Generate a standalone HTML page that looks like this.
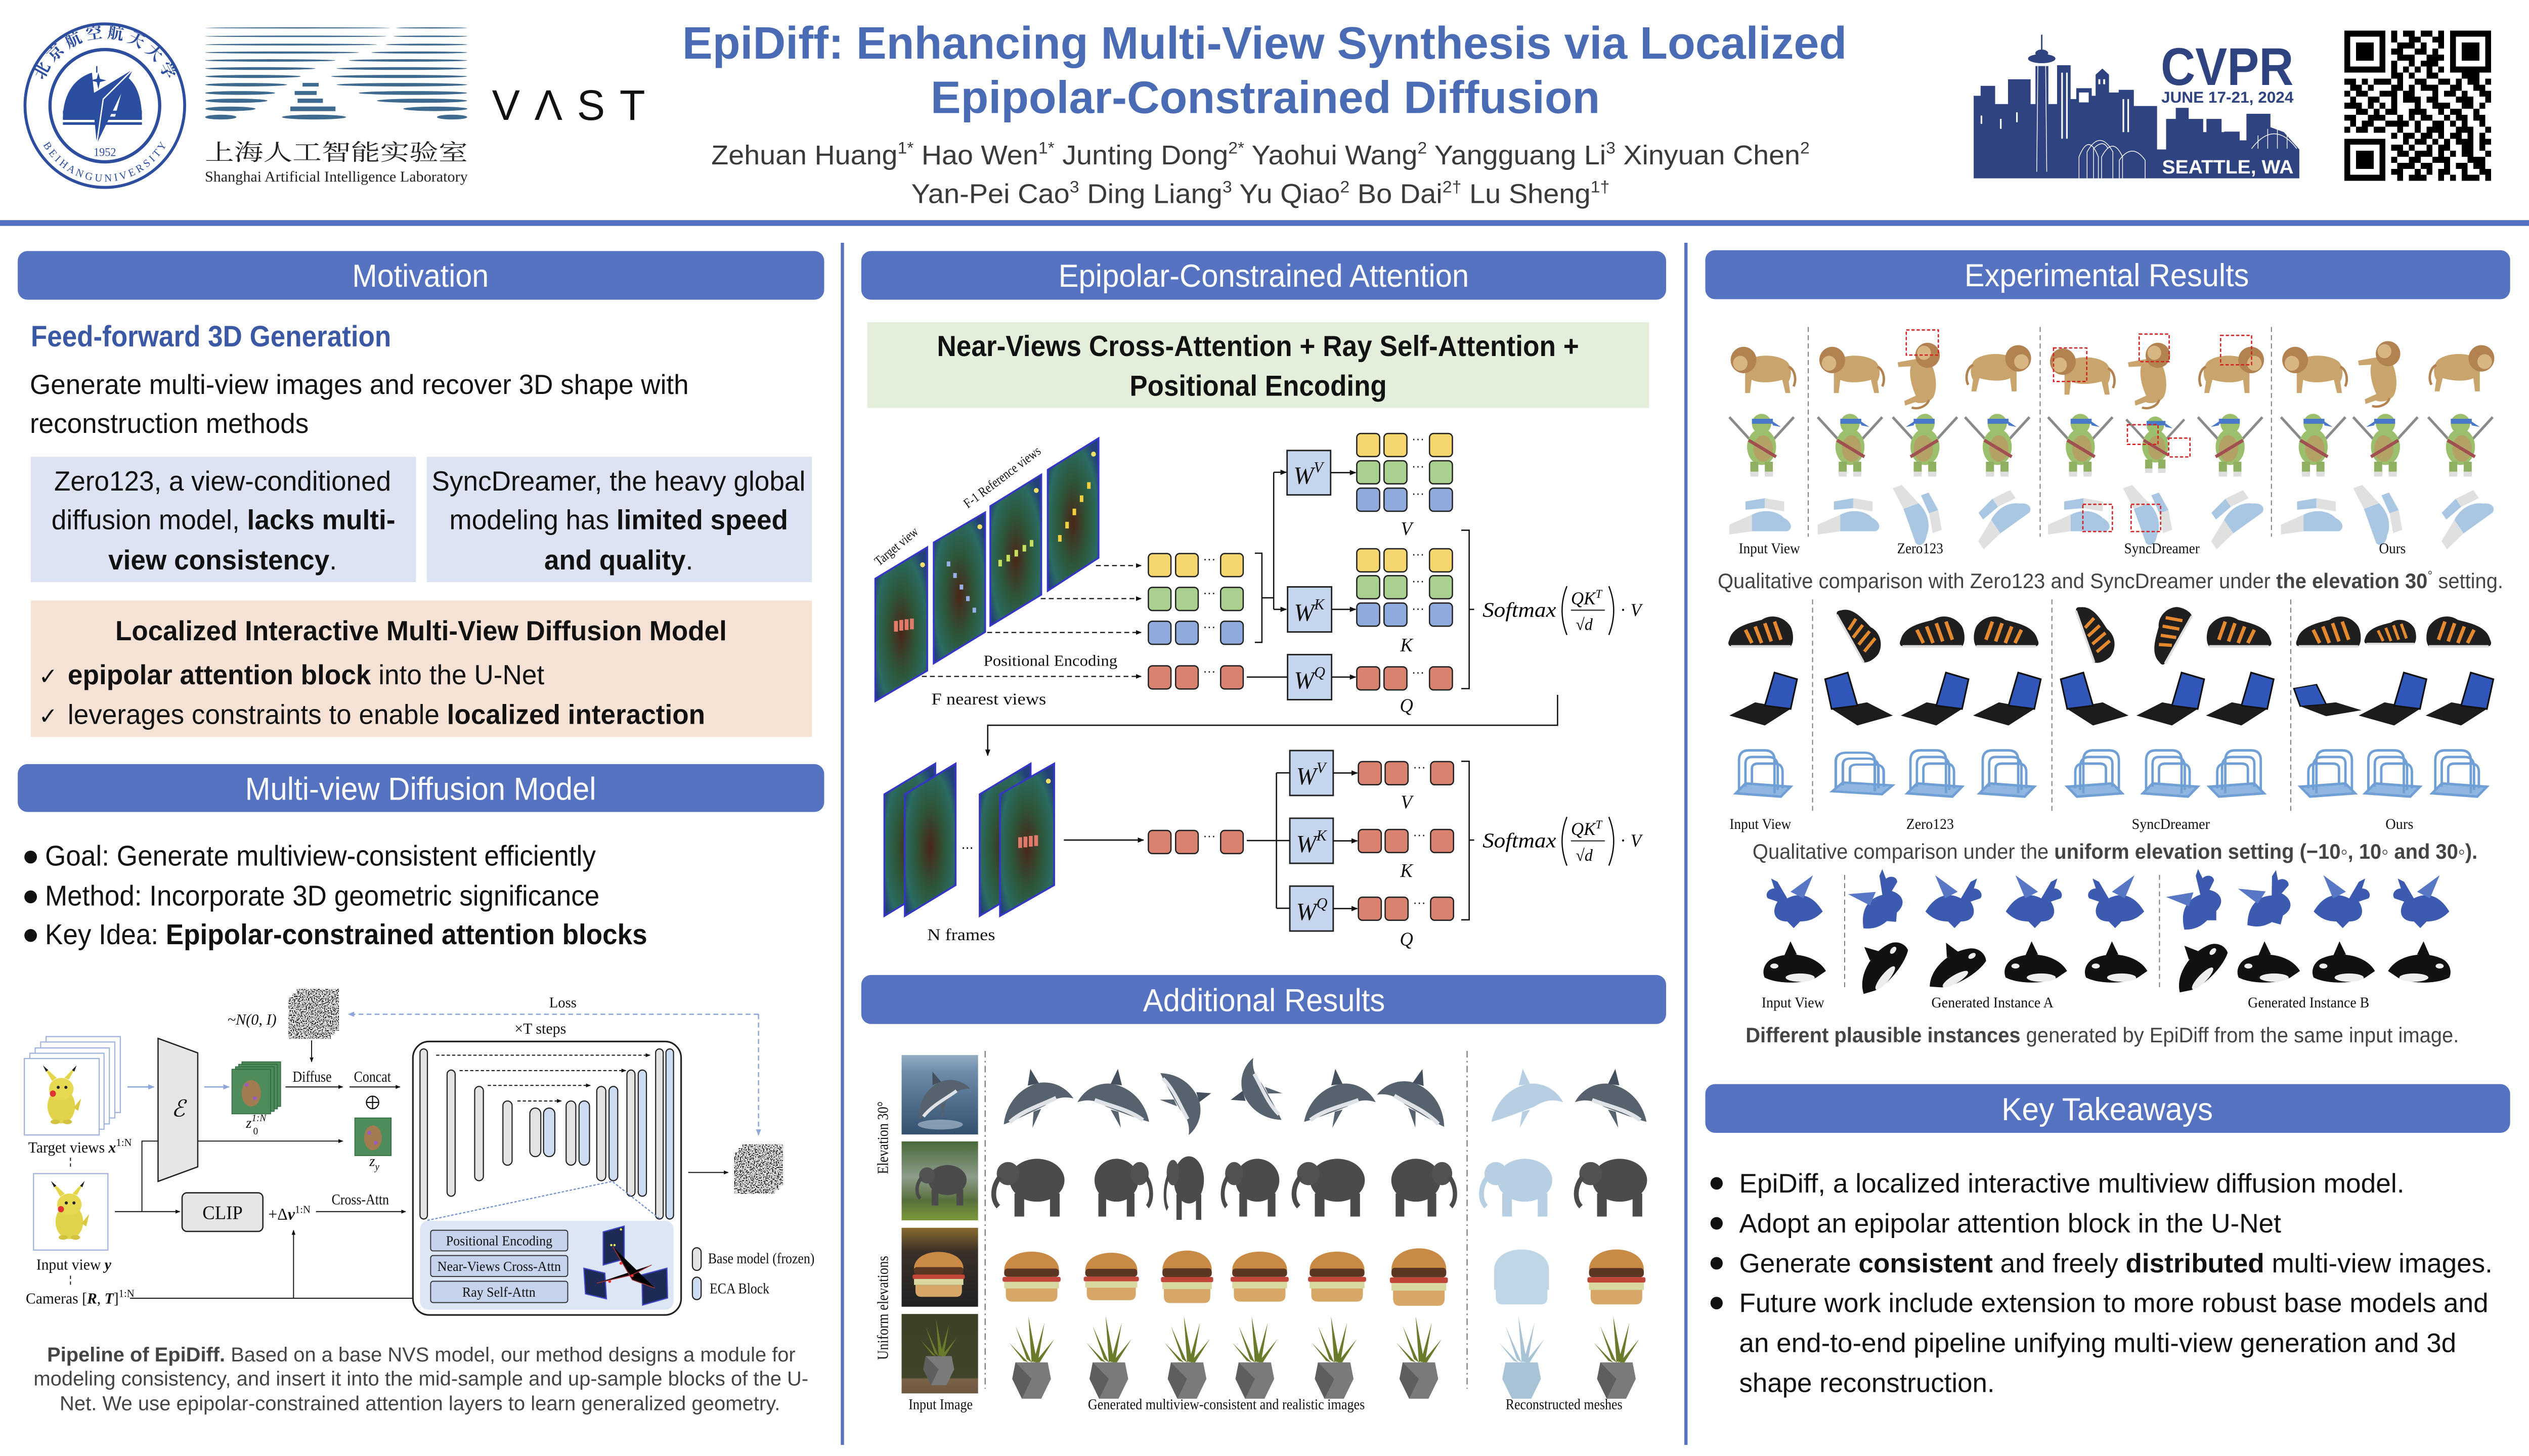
<!DOCTYPE html>
<html><head><meta charset="utf-8"><style>
html,body{margin:0;padding:0;background:#fff;overflow:hidden;width:100%;height:100%;}
svg{display:block;position:fixed;left:0;top:0;width:100vw;height:100vh}
.s{font-family:"Liberation Sans",Arial,"Noto Sans CJK SC",sans-serif}
.r{font-family:"Liberation Serif","Times New Roman",serif}
.cj{font-family:"Noto Serif CJK SC","Noto Sans CJK SC",serif}
.b{font-weight:bold}
.i{font-style:italic}
.ty{fill:#f6d66f}.tg{fill:#a9d08e}.tb{fill:#8faadc}.tr{fill:#d9826f}
.tk rect{stroke:#222;stroke-width:.8}
</style></head><body>
<svg width="5120" height="2879" viewBox="0 0 1568 881.7" preserveAspectRatio="none" xmlns="http://www.w3.org/2000/svg">
<defs>
<marker id="ah" viewBox="0 0 10 10" refX="9" refY="5" markerWidth="5" markerHeight="5" orient="auto"><path d="M0,1 L10,5 L0,9 z" fill="#111"/></marker>
<marker id="ahb" viewBox="0 0 10 10" refX="9" refY="5" markerWidth="5" markerHeight="5" orient="auto"><path d="M0,1 L10,5 L0,9 z" fill="#8fa8dc"/></marker>
<filter id="noise" x="0" y="0" width="1" height="1" filterUnits="objectBoundingBox">
<feTurbulence type="fractalNoise" baseFrequency="1.4" numOctaves="1" seed="4" result="t"/>
<feColorMatrix in="t" type="matrix" values="4 0 0 0 -1.5  4 0 0 0 -1.5  4 0 0 0 -1.5  0 0 0 0 1"/>
</filter>
<radialGradient id="fm" cx="0.5" cy="0.55" r="0.62"><stop offset="0" stop-color="#4a2618"/><stop offset="0.45" stop-color="#2d573a"/><stop offset="0.8" stop-color="#2b6b62"/><stop offset="1" stop-color="#23407a"/></radialGradient>
<linearGradient id="sea" x1="0" y1="0" x2="0" y2="1"><stop offset="0" stop-color="#93abc2"/><stop offset="0.2" stop-color="#6f8dab"/><stop offset="1" stop-color="#33506e"/></linearGradient>
<linearGradient id="forest" x1="0" y1="0" x2="0" y2="1"><stop offset="0" stop-color="#4a6a3a"/><stop offset="0.45" stop-color="#8c9c8a"/><stop offset="0.75" stop-color="#58703c"/><stop offset="1" stop-color="#7c9a3a"/></linearGradient>
<linearGradient id="bgb" x1="0" y1="0" x2="0" y2="1"><stop offset="0" stop-color="#8a6a30"/><stop offset="0.3" stop-color="#3a3028"/><stop offset="1" stop-color="#222"/></linearGradient>
<linearGradient id="bgp" x1="0" y1="0" x2="0" y2="1"><stop offset="0" stop-color="#3b4226"/><stop offset="0.8" stop-color="#40442a"/><stop offset="0.82" stop-color="#7a6248"/><stop offset="1" stop-color="#6e5840"/></linearGradient>

<g id="pika">
<path d="M-6,-13 L-12,-23 L-3,-15Z" fill="#e4d64a"/><path d="M-12,-23 L-10,-19 L-8.5,-20Z" fill="#222"/>
<path d="M5,-14 L10,-23 L2,-15Z" fill="#e4d64a"/><path d="M10,-23 L8.5,-19 L7,-20Z" fill="#222"/>
<ellipse cx="0" cy="3" rx="9" ry="11" fill="#e2d34c"/>
<ellipse cx="0" cy="-8" rx="8" ry="7" fill="#e6d850"/>
<circle cx="-5.5" cy="-5" r="2" fill="#d33"/>
<circle cx="-2" cy="-9" r="1" fill="#222"/><circle cx="3" cy="-9" r="1" fill="#222"/>
<path d="M8,4 L13,-2 L11,6Z" fill="#d8c840"/>
<ellipse cx="-4" cy="13" rx="3" ry="1.5" fill="#d2c240"/><ellipse cx="4" cy="13" rx="3" ry="1.5" fill="#d2c240"/>
</g>

<g id="lion">
<path d="M-12,-2 C-8,-8 8,-8 14,-3 C17,0 17,6 15,9 L16,16 L13,16 L11,8 C4,10 -4,10 -8,8 L-9,16 L-12,16 L-12,6 Z" fill="#c9a46c"/>
<circle cx="-13" cy="-4" r="8" fill="#b28350"/>
<circle cx="-15" cy="-2" r="4.5" fill="#d7b683"/>
<path d="M15,0 C19,2 20,8 18,12" stroke="#b28350" stroke-width="1.5" fill="none"/>
</g>
<g id="turtle">
<path d="M-20,-14 L-5,2" stroke="#8a8a8a" stroke-width="1.6"/>
<path d="M20,-14 L5,2" stroke="#8a8a8a" stroke-width="1.6"/>
<ellipse cx="0" cy="4" rx="9" ry="11" fill="#9cbf6e"/>
<ellipse cx="1" cy="5" rx="6" ry="8" fill="#b3a266"/>
<circle cx="0" cy="-10" r="6" fill="#9cbf6e"/>
<rect x="-6" y="-13" width="13" height="3" fill="#4a78c8"/>
<path d="M6,-12 L12,-8 L7,-9Z" fill="#4a78c8"/>
<rect x="-7" y="13" width="5" height="8" fill="#8fb060"/><rect x="2" y="13" width="5" height="8" fill="#8fb060"/>
<rect x="-7" y="19" width="5" height="3" fill="#ddd"/><rect x="2" y="19" width="5" height="3" fill="#ddd"/>
<path d="M-8,0 L9,10" stroke="#a05050" stroke-width="2"/>
</g>
<g id="gloves">
<path d="M-20,8 L-6,2 L-6,12 L-20,14Z" fill="#e0e0e0"/>
<path d="M-6,2 C2,-2 10,0 14,4 C18,6 20,10 16,12 L-6,12Z" fill="#a9c7e2"/>
<path d="M-10,-6 L2,-8 L2,-2 L-10,-1Z" fill="#a9c7e2"/>
<path d="M2,-8 L14,-6 L14,0 L2,-2Z" fill="#e0e0e0"/>
</g>
<g id="shoe">
<path d="M-20,4 C-18,-4 -8,-6 0,-8 C6,-12 14,-10 18,-4 C20,0 20,6 18,8 L-18,8 C-21,8 -21,6 -20,4Z" fill="#1f1f1f"/>
<path d="M-10,-2 L-6,6 M-4,-4 L0,6 M2,-6 L6,5 M8,-7 L12,4" stroke="#e5892f" stroke-width="2.2"/>
<path d="M-19,8 L18,8" stroke="#ddd" stroke-width="1.5"/>
</g>
<g id="laptop">
<path d="M-20,8 L2,14 L18,4 L-4,0Z" fill="#1c1c1c"/>
<path d="M2,2 L18,4 L22,-14 L8,-18Z" fill="#2f56b8" stroke="#111" stroke-width="1"/>
</g>
<g id="rack" fill="none" stroke="#6f9fd4" stroke-width="1.5">
<path d="M-16,12 L12,14 L18,8 L-10,6Z" fill="#8fb6e0"/>
<path d="M-14,10 V-8 Q-14,-14 -8,-14 H2 Q8,-14 8,-8 V12"/>
<path d="M-10,8 V-6 Q-10,-10 -6,-10 H4 Q10,-10 10,-4 V10"/>
<path d="M-6,7 V-3 Q-6,-6 -2,-6 H8 Q13,-6 13,-1 V9"/>
</g>
<g id="dragon">
<path d="M-18,6 C-12,-4 -4,-6 4,-2 L10,-12 L14,-14 L12,-8 C16,-8 18,-4 16,-2 L10,0 C14,6 12,12 4,12 L0,16 L-4,12 C-10,12 -14,10 -18,6Z" fill="#3c5bb0"/>
<path d="M-6,-2 L-12,-16 L2,-6Z" fill="#5877c4"/>
</g>
<g id="orca">
<path d="M-20,4 C-14,-6 2,-8 12,-4 C18,-2 20,4 18,8 C10,12 -6,12 -14,8 L-20,4Z" fill="#111"/>
<path d="M-2,-6 L2,-14 L6,-5Z" fill="#111"/>
<ellipse cx="-4" cy="8" rx="9" ry="2.5" fill="#eee"/>
<ellipse cx="12" cy="1" rx="2.5" ry="1.5" fill="#eee"/>
</g>
<g id="dolphin">
<path d="M-22,10 C-16,-2 -4,-8 8,-6 C16,-4 22,2 24,10 C18,6 12,6 6,8 C-4,9 -14,10 -22,10Z" fill="#56636f"/>
<path d="M-18,10 C-8,6 4,7 14,6" stroke="#dfe3e8" stroke-width="2.5" fill="none"/>
<path d="M0,-7 L5,-16 L7,-6Z" fill="#44505e"/>
<path d="M-2,9 L-6,18 L3,9Z" fill="#56636f"/>
</g>
<g id="dolphinM" fill="#b7cfe2">
<path d="M-22,10 C-16,-2 -4,-8 8,-6 C16,-4 22,2 24,10 C18,6 12,6 6,8 C-4,9 -14,10 -22,10Z"/>
<path d="M0,-7 L5,-16 L7,-6Z"/><path d="M-2,9 L-6,18 L3,9Z"/>
</g>
<g id="eleph">
<ellipse cx="2" cy="-2" rx="17" ry="13" fill="#4b4b4b"/>
<rect x="-12" y="6" width="6" height="14" fill="#4b4b4b"/>
<rect x="10" y="6" width="6" height="14" fill="#4b4b4b"/>
<circle cx="-16" cy="-6" r="7" fill="#525252"/>
<path d="M-21,-4 C-26,2 -26,10 -22,14" stroke="#4b4b4b" stroke-width="3" fill="none"/>
</g>
<g id="elephM" fill="#b7cfe2">
<ellipse cx="2" cy="-2" rx="17" ry="13"/>
<rect x="-12" y="6" width="6" height="14"/><rect x="10" y="6" width="6" height="14"/>
<circle cx="-16" cy="-6" r="7"/>
<path d="M-21,-4 C-26,2 -26,10 -22,14" stroke="#b7cfe2" stroke-width="3" fill="none"/>
</g>
<g id="burger">
<path d="M-17,-2 C-17,-17 17,-17 17,-2Z" fill="#c98a45"/>
<rect x="-17" y="-3" width="34" height="5" rx="2" fill="#5b3623"/>
<rect x="-18" y="2" width="36" height="3" rx="1" fill="#c0463a"/>
<rect x="-17" y="5" width="34" height="4" fill="#d8d8a0"/>
<path d="M-16,9 H16 V13 Q16,17 12,17 H-12 Q-16,17 -16,13Z" fill="#d6a767"/>
</g>
<g id="burgerM" fill="#bfd6e6">
<path d="M-17,-2 C-17,-17 17,-17 17,-2Z"/><rect x="-17" y="-3" width="34" height="12"/>
<path d="M-16,9 H16 V13 Q16,17 12,17 H-12 Q-16,17 -16,13Z"/>
</g>
<g id="plant">
<path d="M-10,4 L10,4 L12,14 L6,26 L-6,26 L-12,14Z" fill="#7a7a7a"/>
<path d="M-10,4 L-12,14 L-6,26 L0,14Z" fill="#5e5e5e"/>
<path d="M0,4 L-10,-18 L-3,2 Z M0,4 L-2,-24 L3,2Z M1,4 L8,-20 L4,3Z M-2,4 L-14,-8 L-5,3Z M2,4 L14,-10 L5,4Z" fill="#6a7b2c"/>
</g>
<g id="plantM" fill="#a9c3d6">
<path d="M-10,4 L10,4 L12,14 L6,26 L-6,26 L-12,14Z"/>
<path d="M0,4 L-10,-18 L-3,2 Z M0,4 L-2,-24 L3,2Z M1,4 L8,-20 L4,3Z M-2,4 L-14,-8 L-5,3Z M2,4 L14,-10 L5,4Z"/>
</g>
<g id="fml">
<text class="r i" x="919.2" y="373.5" font-size="12.5" textLength="45.6" lengthAdjust="spacingAndGlyphs">Softmax</text>
<path d="M971.5,355 Q965.5,369.5 971.5,384.5 M997.5,355 Q1003.5,369.5 997.5,384.5" stroke="#111" stroke-width=".8" fill="none"/>
<text class="r i" x="974" y="366" font-size="11">QK<tspan font-size="7" dy="-4">T</tspan></text>
<path d="M974,369.5 H995" stroke="#111" stroke-width=".6"/>
<text class="r" x="977" y="381.5" font-size="10">√<tspan class="i">d</tspan></text>
<text class="r" x="1004.5" y="373" font-size="11">· <tspan class="i">V</tspan></text>
</g>
</defs>

<rect x="0" y="0" width="1568" height="881.7" fill="#fff"/>

<!-- ========== HEADER ========== -->
<!-- Beihang logo -->
<g stroke="#2d4d9f" fill="none">
<circle cx="65" cy="64" r="49.5" stroke-width="1.8"/>
<circle cx="65" cy="64" r="34" stroke-width="2"/>
</g>
<path id="arcTop" d="M24,64 A41,41 0 0 1 106,64" fill="none"/>
<path id="arcBot" d="M21,66 A44,44 0 0 0 109,66" fill="none"/>
<text class="cj" font-size="10" fill="#2d4d9f" font-weight="bold"><textPath href="#arcTop" startOffset="50%" text-anchor="middle">北 京 航 空 航 天 大 学</textPath></text>
<text class="r" font-size="6.5" fill="#2d4d9f"><textPath href="#arcBot" startOffset="50%" text-anchor="middle">B E I H A N G   U N I V E R S I T Y</textPath></text>
<g fill="#2b4ea0">
<path d="M39,72 C39,56 47,47 57,44 L60,72 Z"/>
<path d="M88,72 C88,58 84,50 78,46 L71,72 Z"/>
<rect x="39" y="67" width="49" height="2"/><rect x="39" y="70.6" width="49" height="2"/><rect x="39" y="74" width="49" height="1.6"/>
<path d="M60,47.7 L61,44 L62,47.7 L66,48.7 L62,49.7 L61,54 L60,49.7 L56,48.7Z"/>
<path d="M82.5,42 L57,57 L60,87 Z"/>
</g>
<path d="M82.5,42 L64,60 L60,87" stroke="#fff" stroke-width=".8" fill="none"/>
<path d="M60,44 V40" stroke="#2b4ea0" stroke-width=".8"/>
<text class="r" x="65" y="94.5" font-size="7" fill="#2d4d9f" text-anchor="middle">1952</text>

<!-- Shanghai AI Lab logo -->
<g fill="#3d6a8e">
<ellipse cx="184.6" cy="16.9" rx="57.4" ry=".35"/><ellipse cx="267.6" cy="16.9" rx="22.1" ry=".35"/>
<ellipse cx="183.4" cy="22" rx="56.2" ry=".45"/><ellipse cx="266.9" cy="22" rx="22.9" ry=".45"/>
<ellipse cx="180.5" cy="27" rx="53.3" ry=".55"/><ellipse cx="264.4" cy="27" rx="25.4" ry=".55"/>
<ellipse cx="174.9" cy="31.8" rx="47.7" ry=".65"/><ellipse cx="260" cy="31.8" rx="29.7" ry=".65"/>
<ellipse cx="167.6" cy="36.6" rx="40.4" ry=".75"/><ellipse cx="253" cy="36.6" rx="36.7" ry=".75"/>
<ellipse cx="161.4" cy="41.5" rx="34.2" ry=".85"/><ellipse cx="249.2" cy="41.5" rx="40.5" ry=".85"/>
<ellipse cx="156.9" cy="46.3" rx="29.7" ry=".95"/><ellipse cx="247.5" cy="46.3" rx="42.2" ry=".95"/>
<ellipse cx="152.6" cy="51.3" rx="25.4" ry="1.05"/><rect x="187.6" y="50.2" width="10" height="2.2"/><ellipse cx="249.2" cy="51.3" rx="40.5" ry="1.05"/>
<ellipse cx="148.9" cy="56.3" rx="21.7" ry="1.15"/><rect x="182.7" y="55.1" width="13.6" height="2.4"/><ellipse cx="256" cy="56.3" rx="33.6" ry="1.15"/>
<ellipse cx="146.5" cy="61" rx="19.3" ry="1.25"/><rect x="184.5" y="59.7" width="15.7" height="2.6"/><ellipse cx="261.7" cy="61" rx="28" ry="1.25"/>
<ellipse cx="142.8" cy="65.9" rx="15.6" ry="1.35"/><rect x="180" y="64.5" width="28" height="2.8"/><ellipse cx="269.9" cy="65.9" rx="19.9" ry="1.35"/>
<ellipse cx="136.9" cy="70.9" rx="9.7" ry="1.45"/><ellipse cx="194.7" cy="70.9" rx="19.9" ry="1.45"/><ellipse cx="280.3" cy="70.9" rx="9.4" ry="1.45"/>
</g>
<text class="cj" x="127" y="97" font-size="13.5" fill="#222" textLength="163" lengthAdjust="spacingAndGlyphs">上海人工智能实验室</text>
<text class="r" x="127" y="110" font-size="9" fill="#222" textLength="163" lengthAdjust="spacingAndGlyphs">Shanghai Artificial Intelligence Laboratory</text>
<text class="s" x="305" y="72.6" font-size="26" fill="#111" textLength="95" lengthAdjust="spacing">VΛST</text>

<!-- Title -->
<text class="s b" x="423" y="35.5" font-size="27.5" fill="#4a6cb4" textLength="722" lengthAdjust="spacingAndGlyphs">EpiDiff: Enhancing Multi-View Synthesis via Localized</text>
<text class="s b" x="577" y="68.5" font-size="27.5" fill="#4a6cb4" textLength="415" lengthAdjust="spacingAndGlyphs">Epipolar-Constrained Diffusion</text>
<text class="s" x="441" y="99.5" font-size="16.5" fill="#3a3a3a" textLength="681" lengthAdjust="spacingAndGlyphs">Zehuan Huang<tspan font-size="10" dy="-6.5">1*</tspan><tspan dy="6.5"> Hao Wen</tspan><tspan font-size="10" dy="-6.5">1*</tspan><tspan dy="6.5"> Junting Dong</tspan><tspan font-size="10" dy="-6.5">2*</tspan><tspan dy="6.5"> Yaohui Wang</tspan><tspan font-size="10" dy="-6.5">2</tspan><tspan dy="6.5"> Yangguang Li</tspan><tspan font-size="10" dy="-6.5">3</tspan><tspan dy="6.5"> Xinyuan Chen</tspan><tspan font-size="10" dy="-6.5">2</tspan></text>
<text class="s" x="565" y="123" font-size="16.5" fill="#3a3a3a" textLength="433" lengthAdjust="spacingAndGlyphs">Yan-Pei Cao<tspan font-size="10" dy="-6.5">3</tspan><tspan dy="6.5"> Ding Liang</tspan><tspan font-size="10" dy="-6.5">3</tspan><tspan dy="6.5"> Yu Qiao</tspan><tspan font-size="10" dy="-6.5">2</tspan><tspan dy="6.5"> Bo Dai</tspan><tspan font-size="10" dy="-6.5">2†</tspan><tspan dy="6.5"> Lu Sheng</tspan><tspan font-size="10" dy="-6.5">1†</tspan></text>

<!-- CVPR logo -->
<g fill="#2f4380">
<polygon points="1223.7,108 1223.7,58 1228,58 1228,52 1237,52 1237,63 1245,63 1245,48 1259,48 1259,63 1262,63 1262,40 1270,40 1270,63 1275.4,63 1275.4,39.5 1283.8,39.5 1283.8,60 1287.3,60 1287.3,53.4 1296.9,53.4 1296.9,58 1299.3,58 1299.3,45.2 1303.5,41.5 1307.6,45.2 1307.6,56 1313.6,56 1313.6,54.4 1323,54.4 1323,64.2 1337.4,64.2 1337.4,90.5 1343,90.5 1343,72 1349,72 1349,65.3 1357,65.3 1357,72 1366,72 1366,80 1368,80 1368,72 1377.4,72 1377.4,80 1379,80 1379,79.7 1388.6,79.7 1388.6,85 1392.8,85 1392.8,68.9 1407.7,68.9 1407.7,77 1416,80 1425.6,90.5 1425.6,108"/>
<path d="M1265.9,21 V34" stroke="#2f4380" stroke-width="0.9"/>
<ellipse cx="1265.9" cy="35.5" rx="8.5" ry="2.8"/>
<ellipse cx="1265.9" cy="32.2" rx="4" ry="2.2"/>
</g>
<g stroke="#fff" stroke-width=".45" fill="none">
<path d="M1263.5,39 L1262.8,104 M1268.3,39 L1269,104"/>
<path d="M1289,108 V95 Q1295,80 1301,95 V108 M1294,108 V92 Q1302,78 1310,92 V108 M1303,108 V95 Q1310,82 1316,95 V108 M1314,108 V97 Q1322,86 1330,97 V108 M1298,108 V90 Q1304,84 1307,90"/>
<path d="M1396,90 Q1410,72 1424,90 M1400,90 V82 M1406,90 V78 M1412,90 V78 M1418,90 V82"/>
</g>
<g fill="#fff">
<rect x="1278" y="44" width="1" height="40"/><rect x="1281" y="44" width="1" height="40"/>
<rect x="1301" y="48" width="1.2" height="3"/><rect x="1304" y="48" width="1.2" height="3"/>
<rect x="1289" y="56" width="6" height="6"/>
<rect x="1316" y="60" width="1" height="20"/><rect x="1319" y="60" width="1" height="20"/>
<rect x="1228" y="70" width="1" height="5"/><rect x="1240" y="72" width="1" height="6"/><rect x="1250" y="68" width="1" height="6"/>
</g>
<text class="s b" x="1339.7" y="51.4" font-size="32" fill="#2f4380" textLength="82.3" lengthAdjust="spacingAndGlyphs">CVPR</text>
<text class="s b" x="1340" y="62.2" font-size="9.5" fill="#2f4380" textLength="82" lengthAdjust="spacingAndGlyphs">JUNE 17-21, 2024</text>
<text class="s b" x="1340.5" y="105" font-size="11.5" fill="#fff" textLength="81.5" lengthAdjust="spacingAndGlyphs">SEATTLE, WA</text>

<!-- QR -->
<g transform="translate(1453.5,18.5) scale(3.64)" fill="#000" shape-rendering="crispEdges">
<path fill-rule="evenodd" d="M0,0h7v7h-7z M1,1v5h5v-5z M2,2h3v3h-3z M18,0h7v7h-7z M19,1v5h5v-5z M20,2h3v3h-3z M0,18h7v7h-7z M1,19v5h5v-5z M2,20h3v3h-3z"/>
<path d="M8 0h1v1h-1z M10 0h2v1h-2z M13 0h2v1h-2z M16 0h1v1h-1z M8 1h1v1h-1z M11 1h2v1h-2z M15 1h2v1h-2z M9 2h3v1h-3z M13 2h1v1h-1z M16 2h1v1h-1z M8 3h2v1h-2z M12 3h2v1h-2z M15 3h1v1h-1z M9 4h3v1h-3z M14 4h3v1h-3z M8 5h1v1h-1z M11 5h1v1h-1z M13 5h3v1h-3z M8 6h1v1h-1z M10 6h1v1h-1z M12 6h1v1h-1z M14 6h1v1h-1z M16 6h1v1h-1z M8 7h2v1h-2z M11 7h1v1h-1z M14 7h2v1h-2z M20 7h3v1h-3z M0 8h2v1h-2z M3 8h1v1h-1z M5 8h3v1h-3z M9 8h1v1h-1z M12 8h2v1h-2z M16 8h2v1h-2z M19 8h1v1h-1z M21 8h2v1h-2z M24 8h1v1h-1z M1 9h2v1h-2z M4 9h1v1h-1z M8 9h2v1h-2z M11 9h1v1h-1z M13 9h3v1h-3z M18 9h2v1h-2z M22 9h2v1h-2z M0 10h1v1h-1z M2 10h2v1h-2z M6 10h3v1h-3z M10 10h2v1h-2z M15 10h1v1h-1z M17 10h2v1h-2z M20 10h1v1h-1z M23 10h2v1h-2z M1 11h1v1h-1z M4 11h2v1h-2z M8 11h1v1h-1z M10 11h3v1h-3z M14 11h2v1h-2z M19 11h3v1h-3z M24 11h1v1h-1z M0 12h3v1h-3z M4 12h1v1h-1z M6 12h1v1h-1z M8 12h1v1h-1z M12 12h1v1h-1z M15 12h3v1h-3z M20 12h2v1h-2z M23 12h1v1h-1z M2 13h2v1h-2z M5 13h1v1h-1z M7 13h2v1h-2z M11 13h3v1h-3z M16 13h1v1h-1z M18 13h2v1h-2z M22 13h1v1h-1z M0 14h2v1h-2z M4 14h3v1h-3z M9 14h1v1h-1z M11 14h1v1h-1z M13 14h2v1h-2z M17 14h1v1h-1z M19 14h2v1h-2z M22 14h2v1h-2z M1 15h1v1h-1z M3 15h2v1h-2z M7 15h4v1h-4z M12 15h1v1h-1z M15 15h2v1h-2z M18 15h1v1h-1z M20 15h1v1h-1z M23 15h1v1h-1z M0 16h1v1h-1z M2 16h2v1h-2z M5 16h2v1h-2z M9 16h1v1h-1z M12 16h1v1h-1z M14 16h3v1h-3z M19 16h3v1h-3z M24 16h1v1h-1z M8 17h1v1h-1z M10 17h2v1h-2z M13 17h2v1h-2z M16 17h1v1h-1z M18 17h2v1h-2z M21 17h1v1h-1z M23 17h1v1h-1z M10 18h1v1h-1z M12 18h2v1h-2z M15 18h1v1h-1z M17 18h1v1h-1z M19 18h3v1h-3z M23 18h2v1h-2z M8 19h2v1h-2z M11 19h1v1h-1z M14 19h1v1h-1z M16 19h2v1h-2z M20 19h2v1h-2z M23 19h1v1h-1z M9 20h2v1h-2z M12 20h3v1h-3z M16 20h1v1h-1z M18 20h1v1h-1z M20 20h2v1h-2z M24 20h1v1h-1z M8 21h1v1h-1z M11 21h2v1h-2z M15 21h3v1h-3z M21 21h3v1h-3z M9 22h3v1h-3z M13 22h2v1h-2z M17 22h1v1h-1z M19 22h2v1h-2z M22 22h2v1h-2z M8 23h2v1h-2z M12 23h1v1h-1z M14 23h1v1h-1z M16 23h2v1h-2z M20 23h1v1h-1z M23 23h2v1h-2z M9 24h1v1h-1z M11 24h3v1h-3z M16 24h1v1h-1z M18 24h1v1h-1z M20 24h3v1h-3z M24 24h1v1h-1z"/>
</g>

<rect x="0" y="133.3" width="1568" height="3.5" fill="#5470c0"/>

<!-- dividers -->
<rect x="521.3" y="147" width="2" height="728" fill="#5673c1"/>
<rect x="1044.3" y="147" width="2" height="728" fill="#5673c1"/>

<!-- section headers -->
<g fill="#5673c1">
<rect x="11" y="152" width="500" height="29.5" rx="6"/>
<rect x="11" y="462.7" width="500" height="29" rx="6"/>
<rect x="534" y="152" width="499" height="29.5" rx="6"/>
<rect x="534" y="590.4" width="499" height="29.7" rx="6"/>
<rect x="1057.3" y="151.5" width="499" height="29.7" rx="6"/>
<rect x="1057.3" y="656.5" width="499" height="29.5" rx="6"/>
</g>
<g class="s" fill="#fff" font-size="19.3" text-anchor="middle">
<text x="260.7" y="173.7" textLength="84.6" lengthAdjust="spacingAndGlyphs">Motivation</text>
<text x="260.8" y="484.4" textLength="217.6" lengthAdjust="spacingAndGlyphs">Multi-view Diffusion Model</text>
<text x="783.5" y="173.7" textLength="254.5" lengthAdjust="spacingAndGlyphs">Epipolar-Constrained Attention</text>
<text x="783.7" y="612.3" textLength="150" lengthAdjust="spacingAndGlyphs">Additional Results</text>
<text x="1306.2" y="173.4" textLength="176.4" lengthAdjust="spacingAndGlyphs">Experimental Results</text>
<text x="1306.5" y="678.4" textLength="131" lengthAdjust="spacingAndGlyphs">Key Takeaways</text>
</g>

<!-- ========== LEFT COLUMN ========== -->
<text class="s b" x="19.1" y="209.8" font-size="18" fill="#3b58a5" textLength="223.4" lengthAdjust="spacingAndGlyphs">Feed-forward 3D Generation</text>
<text class="s" x="18.5" y="238.5" font-size="16.8" fill="#111" textLength="408.5" lengthAdjust="spacingAndGlyphs">Generate multi-view images and recover 3D shape with</text>
<text class="s" x="18.5" y="262.2" font-size="16.8" fill="#111" textLength="172.9" lengthAdjust="spacingAndGlyphs">reconstruction methods</text>
<rect x="19.1" y="276.6" width="238.8" height="75.9" fill="#dde3f3"/>
<rect x="264.6" y="276.6" width="238.8" height="75.9" fill="#dde3f3"/>
<g class="s" font-size="16.8" fill="#111" text-anchor="middle">
<text x="138" y="297" textLength="208.9" lengthAdjust="spacingAndGlyphs">Zero123, a view-conditioned</text>
<text x="138.5" y="320.5" textLength="213.2" lengthAdjust="spacingAndGlyphs">diffusion model, <tspan class="b">lacks multi-</tspan></text>
<text x="138" y="344.9" textLength="141.7" lengthAdjust="spacingAndGlyphs"><tspan class="b">view consistency</tspan>.</text>
<text x="383.5" y="297" textLength="231.7" lengthAdjust="spacingAndGlyphs">SyncDreamer, the heavy global</text>
<text x="383.6" y="320.5" textLength="209.9" lengthAdjust="spacingAndGlyphs">modeling has <tspan class="b">limited speed</tspan></text>
<text x="383.6" y="344.9" textLength="92.3" lengthAdjust="spacingAndGlyphs"><tspan class="b">and quality</tspan>.</text>
</g>
<rect x="19.1" y="363.6" width="484.3" height="82.7" fill="#f6e3d5"/>
<text class="s b" x="71.5" y="387.7" font-size="16.8" fill="#111" textLength="379.1" lengthAdjust="spacingAndGlyphs">Localized Interactive Multi-View Diffusion Model</text>
<text x="24" y="414.3" font-size="14" fill="#111" font-family="DejaVu Sans,sans-serif">✓</text>
<text x="24" y="438.4" font-size="14" fill="#111" font-family="DejaVu Sans,sans-serif">✓</text>
<text class="s" x="42" y="414.3" font-size="16.8" fill="#111" textLength="295.5" lengthAdjust="spacingAndGlyphs"><tspan class="b">epipolar attention block</tspan> into the U-Net</text>
<text class="s" x="42" y="438.4" font-size="16.8" fill="#111" textLength="395.2" lengthAdjust="spacingAndGlyphs">leverages constraints to enable <tspan class="b">localized interaction</tspan></text>
<g fill="#111">
<circle cx="19" cy="519" r="3.9"/><circle cx="19" cy="543.1" r="3.9"/><circle cx="19" cy="566.5" r="3.9"/>
</g>
<g class="s" font-size="17.3" fill="#111">
<text x="27.9" y="524.2" textLength="341.5" lengthAdjust="spacingAndGlyphs">Goal: Generate multiview-consistent efficiently</text>
<text x="27.9" y="548.3" textLength="343.8" lengthAdjust="spacingAndGlyphs">Method: Incorporate 3D geometric significance</text>
<text x="27.9" y="571.7" textLength="373.4" lengthAdjust="spacingAndGlyphs">Key Idea: <tspan class="b">Epipolar-constrained attention blocks</tspan></text>
</g>

<!-- Pipeline diagram -->
<g fill="#fff" stroke="#9fb3de" stroke-width="0.7">
<rect x="28.6" y="627.7" width="46" height="46"/>
<rect x="25.2" y="631" width="46" height="46"/>
<rect x="21.8" y="634.6" width="46" height="46"/>
<rect x="18.5" y="637.8" width="46" height="46"/>
<rect x="15.1" y="641" width="46.4" height="46.3"/>
<rect x="20.8" y="710.7" width="46.1" height="46.3"/>
</g>
<use href="#pika" transform="translate(38,667) scale(.95)"/>
<use href="#pika" transform="translate(43,737) scale(.95)"/>
<text class="r" x="17.5" y="698" font-size="9.3" fill="#111">Target views <tspan class="b i">x</tspan><tspan font-size="6.5" dy="-4">1:N</tspan></text>
<text class="r" x="22.5" y="768.8" font-size="9.3" fill="#111">Input view <tspan class="b i">y</tspan></text>
<text class="r" x="16" y="789.4" font-size="9.3" fill="#111">Cameras [<tspan class="b i">R</tspan>, <tspan class="b i">T</tspan>]<tspan font-size="6.5" dy="-4">1:N</tspan></text>
<g stroke="#111" stroke-width=".6" fill="none">
<path d="M43.7,701 V708 M43.7,772.5 V779" stroke-dasharray="2 1.5"/>
<path d="M71.2,733.7 H111.5" marker-end="url(#ah)"/>
<path d="M88,733.7 V691 H98"/>
<path d="M122.6,691 H212.5" marker-end="url(#ah)"/>
<path d="M193.2,630 V643" marker-end="url(#ah)"/>
<path d="M177,658.2 H212.5" marker-end="url(#ah)"/>
<path d="M216.7,658.2 H248" marker-end="url(#ah)"/>
<path d="M195.9,733.7 H251.5" marker-end="url(#ah)"/>
<path d="M80.6,786.2 H258.5" marker-end="url(#ah)"/>
<path d="M182,786.2 V745" marker-end="url(#ah)"/>
<path d="M426.7,710 H451.5" marker-end="url(#ah)"/>
</g>
<g stroke="#8fa8dc" stroke-width=".8" fill="none">
<path d="M79,658.2 H95.5" marker-end="url(#ahb)"/>
<path d="M126.6,658.2 H142" marker-end="url(#ahb)"/>
<path d="M470.3,614.2 H216" stroke-dasharray="3 2" marker-end="url(#ahb)"/>
<path d="M470.3,614.2 V687.5" stroke-dasharray="3 2" marker-end="url(#ahb)"/>
</g>
<polygon points="98,628.8 122.6,637.6 122.6,706.6 98,715.4" fill="#e6e6e6" stroke="#222" stroke-width=".8"/>
<text x="110.5" y="676" font-size="14" text-anchor="middle" fill="#111" font-family="DejaVu Serif,serif" font-style="italic">ℰ</text>
<g stroke="#999" stroke-width=".4">
<rect x="184" y="599" width="26" height="25" filter="url(#noise)"/>
<rect x="181.5" y="601.5" width="26" height="25" filter="url(#noise)"/>
<rect x="179" y="604" width="26" height="25" filter="url(#noise)"/>
<rect x="460.2" y="692.9" width="25.2" height="25" filter="url(#noise)"/>
<rect x="457.7" y="695.4" width="25.2" height="25" filter="url(#noise)"/>
<rect x="455.2" y="697.9" width="25.2" height="25" filter="url(#noise)"/>
</g>
<text class="r i" x="141" y="620.5" font-size="9.5" fill="#111">~N(0, I)</text>
<g fill="#4f8c5c" stroke="#2f6a3f" stroke-width=".5">
<rect x="150" y="643" width="24" height="27"/><rect x="148" y="644.5" width="24" height="27"/>
<rect x="146" y="646" width="24" height="27"/><rect x="143.8" y="647.5" width="24" height="27"/>
<rect x="220" y="677" width="22.5" height="22.8"/>
</g>
<g fill="#b0784e" opacity=".85"><ellipse cx="155.8" cy="662" rx="6" ry="8"/><ellipse cx="231.2" cy="689" rx="5.5" ry="7.5"/></g>
<g fill="#9a5bbf"><circle cx="153" cy="657" r="1.2"/><circle cx="158" cy="665" r="1.2"/><circle cx="229" cy="686" r="1.2"/><circle cx="233" cy="692" r="1.2"/></g>
<text class="r i" x="152.5" y="683" font-size="9" fill="#111">z<tspan font-size="6" dy="-4">1:N</tspan></text>
<text class="r" x="157" y="687" font-size="6" fill="#111">0</text>
<text class="r i" x="229" y="706" font-size="9" fill="#111">z<tspan font-size="6" dy="2.5">y</tspan></text>
<text class="r" x="181.4" y="655" font-size="9.3" fill="#111" textLength="24.2" lengthAdjust="spacingAndGlyphs">Diffuse</text>
<text class="r" x="219.4" y="655" font-size="9.3" fill="#111" textLength="23" lengthAdjust="spacingAndGlyphs">Concat</text>
<g stroke="#111" stroke-width=".7" fill="none"><circle cx="231" cy="667.6" r="3.8"/><path d="M227.2,667.6 H234.8 M231,663.8 V671.4"/></g>
<rect x="112.9" y="722.3" width="50.1" height="23.4" rx="3" fill="#e6e6e6" stroke="#222" stroke-width=".8"/>
<text class="r" x="138" y="738.3" font-size="11.5" fill="#111" text-anchor="middle">CLIP</text>
<text class="r" x="166.3" y="738.5" font-size="10" fill="#111">+Δ<tspan class="b i">v</tspan><tspan font-size="6.5" dy="-4">1:N</tspan></text>
<text class="r" x="205.6" y="729.4" font-size="9" fill="#111" textLength="35.6" lengthAdjust="spacingAndGlyphs">Cross-Attn</text>
<text class="r" x="349" y="610" font-size="9" fill="#111" text-anchor="middle">Loss</text>
<text class="r" x="335" y="626" font-size="9.3" fill="#111" text-anchor="middle" textLength="32" lengthAdjust="spacingAndGlyphs">×T steps</text>
<rect x="256" y="630.7" width="166.3" height="165.6" rx="10" fill="#fff" stroke="#222" stroke-width="1"/>
<g stroke="#222" stroke-width=".7">
<g fill="#e3e3e3">
<rect x="260.4" y="635.2" width="4.6" height="103" rx="2.3"/>
<rect x="277.2" y="648" width="5" height="76.4" rx="2.5"/>
<rect x="294.3" y="657.9" width="5.4" height="57.1" rx="2.7"/>
<rect x="311.8" y="666.7" width="5.7" height="38.9" rx="2.8"/>
<rect x="328.5" y="671" width="6.8" height="29.4" rx="3.4"/>
<rect x="351" y="666.7" width="6" height="38.9" rx="3"/>
<rect x="370" y="657.9" width="5.6" height="57.1" rx="2.8"/>
<rect x="388.7" y="648" width="5" height="76.4" rx="2.5"/>
<rect x="406.5" y="635.2" width="4.7" height="103" rx="2.3"/>
</g>
<g fill="#cddcf0">
<rect x="337" y="671" width="7" height="29.4" rx="3.5"/>
<rect x="359" y="666.7" width="6.5" height="38.9" rx="3.2"/>
<rect x="377.6" y="657.9" width="5.4" height="57.1" rx="2.7"/>
<rect x="395.7" y="648" width="5.1" height="76.4" rx="2.5"/>
<rect x="412.9" y="635.2" width="4.7" height="103" rx="2.3"/>
</g>
</g>
<g stroke="#111" stroke-width=".6" stroke-dasharray="2 1.3" fill="none">
<path d="M270.4,639 H403" marker-end="url(#ah)"/>
<path d="M284.9,648.3 H388" marker-end="url(#ah)"/>
<path d="M302.4,657.3 H366" marker-end="url(#ah)"/>
<path d="M320.8,666.7 H348" marker-end="url(#ah)"/>
</g>
<rect x="260.4" y="739.3" width="157.2" height="53.8" rx="5" fill="#dce6f5"/>
<path d="M265,739 L379.6,715.4 L409,738" stroke="#6f8fcf" stroke-width=".7" stroke-dasharray="1.5 1" fill="none"/>
<g fill="#c5d4ec" stroke="#333" stroke-width=".6">
<rect x="267" y="745" width="85" height="12.5" rx="1.5"/>
<rect x="267" y="760.3" width="85" height="12.7" rx="1.5"/>
<rect x="267" y="775.9" width="85" height="12.9" rx="1.5"/>
</g>
<g class="r" font-size="8.5" fill="#111" text-anchor="middle">
<text x="309.5" y="754.2" textLength="66" lengthAdjust="spacingAndGlyphs">Positional Encoding</text>
<text x="309.5" y="769.6" textLength="76.6" lengthAdjust="spacingAndGlyphs">Near-Views Cross-Attn</text>
<text x="309.3" y="785.3" textLength="45.4" lengthAdjust="spacingAndGlyphs">Ray Self-Attn</text>
</g>
<g fill="#1d2a55" stroke="#3f46c8" stroke-width=".7">
<polygon points="374,746 387,742.5 387,762.5 374,766"/>
<polygon points="362,768 375,771 376,786.5 363,783.5"/>
<polygon points="398,772 413.5,768 413.9,786 398.4,790.3"/>
</g>
<g stroke="#a33" stroke-width=".5"><path d="M380,755 L392,775 L406,780 M370,777 L392,772 L404,766"/></g>
<g fill="#e33"><circle cx="385" cy="765" r=".9"/><circle cx="392" cy="772.5" r=".9"/><circle cx="378" cy="776" r=".9"/></g>
<g fill="#ee5"><circle cx="379" cy="754" r=".7"/><circle cx="381" cy="754" r=".7"/><circle cx="385" cy="744.5" r=".7"/></g>
<rect x="429.3" y="755.6" width="5.4" height="13.7" rx="2.7" fill="#e3e3e3" stroke="#222" stroke-width=".7"/>
<rect x="429.3" y="773.4" width="5.4" height="13.6" rx="2.7" fill="#cddcf0" stroke="#222" stroke-width=".7"/>
<text class="r" x="439" y="765" font-size="9" fill="#111" textLength="66" lengthAdjust="spacingAndGlyphs">Base model (frozen)</text>
<text class="r" x="440" y="783.2" font-size="9" fill="#111" textLength="37" lengthAdjust="spacingAndGlyphs">ECA Block</text>
<g class="s" font-size="12.3" fill="#444">
<text x="29.2" y="824.4" textLength="464" lengthAdjust="spacingAndGlyphs"><tspan class="b">Pipeline of EpiDiff.</tspan> Based on a base NVS model, our method designs a module for</text>
<text x="20.8" y="839" textLength="480.4" lengthAdjust="spacingAndGlyphs">modeling consistency, and insert it into the mid-sample and up-sample blocks of the U-</text>
<text x="37" y="854" textLength="446.7" lengthAdjust="spacingAndGlyphs">Net. We use epipolar-constrained attention layers to learn generalized geometry.</text>
</g>

<!-- ========== MIDDLE COLUMN ========== -->
<rect x="537.7" y="195.1" width="484.8" height="51.9" fill="#e3efda"/>
<text class="s b" x="580.9" y="215.6" font-size="17.6" fill="#111" textLength="398.1" lengthAdjust="spacingAndGlyphs">Near-Views Cross-Attention + Ray Self-Attention +</text>
<text class="s b" x="700.4" y="239.6" font-size="17.6" fill="#111" textLength="159.4" lengthAdjust="spacingAndGlyphs">Positional Encoding</text>

<!-- feature maps upper -->
<g fill="url(#fm)" stroke="#3535c8" stroke-width="1.1">
<polygon points="542.7,350.4 574.9,331.4 574.9,406.1 542.7,424.6"/>
<polygon points="578.9,328.5 610.8,310.3 610.8,382.7 578.9,401.7"/>
<polygon points="614,306.5 645.6,287.4 645.6,360.1 614,378.9"/>
<polygon points="649.6,284.5 681.1,265.4 681.1,337.8 649.6,357.8"/>
</g>
<g fill="#e07a6a"><rect x="554.3" y="376" width="2.4" height="6.5"/><rect x="557.6" y="375.4" width="2.4" height="6.5"/><rect x="560.9" y="375" width="2.4" height="6.5"/><rect x="564.2" y="374.6" width="2.4" height="6.5"/></g>
<g fill="#9ab0e8"><rect x="587" y="340" width="2.2" height="3"/><rect x="591" y="347" width="2.2" height="3"/><rect x="595" y="354" width="2.2" height="3"/><rect x="599" y="361" width="2.2" height="3"/><rect x="603" y="368" width="2.2" height="3"/></g>
<g fill="#c8e060"><rect x="619" y="339" width="2.2" height="4"/><rect x="624" y="336" width="2.2" height="4"/><rect x="629" y="333" width="2.2" height="4"/><rect x="634" y="330" width="2.2" height="4"/><rect x="638.5" y="327" width="2.2" height="4"/></g>
<g fill="#f0d040"><rect x="656" y="324" width="2.2" height="4"/><rect x="660.5" y="316" width="2.2" height="4"/><rect x="665" y="308" width="2.2" height="4"/><rect x="669.5" y="300" width="2.2" height="4"/><rect x="674" y="292" width="2.2" height="4"/></g>
<g fill="#f2e26a"><circle cx="572" cy="342" r="1.5"/><circle cx="607.5" cy="319" r="1.5"/><circle cx="642.5" cy="297" r="1.5"/><circle cx="678" cy="275" r="1.5"/></g>
<text class="r" font-size="8.3" fill="#111" transform="translate(545,343) rotate(-39)" textLength="32" lengthAdjust="spacingAndGlyphs">Target view</text>
<text class="r" font-size="8.3" fill="#111" transform="translate(600,308) rotate(-36.4)" textLength="57" lengthAdjust="spacingAndGlyphs">F-1 Reference views</text>
<g stroke="#111" stroke-width=".7" stroke-dasharray="3 2" fill="none">
<path d="M679.5,342.5 H707.5" marker-end="url(#ah)"/>
<path d="M645.3,362.5 H707.5" marker-end="url(#ah)"/>
<path d="M612.1,383 H707.5" marker-end="url(#ah)"/>
<path d="M571.6,409.6 H707.5" marker-end="url(#ah)"/>
</g>
<text class="r" x="609.8" y="403.2" font-size="9.5" fill="#111" textLength="83" lengthAdjust="spacingAndGlyphs">Positional Encoding</text>
<text class="r" x="577.5" y="426.6" font-size="10" fill="#111" textLength="71.1" lengthAdjust="spacingAndGlyphs">F nearest views</text>

<!-- tokens -->
<g class="tk">
<rect class="ty" x="712" y="335.2" width="14" height="14" rx="2.5"/><rect class="ty" x="728.9" y="335.2" width="14" height="14" rx="2.5"/><rect class="ty" x="756.8" y="335.2" width="14" height="14" rx="2.5"/>
<rect class="tg" x="712" y="355.7" width="14" height="14" rx="2.5"/><rect class="tg" x="728.9" y="355.7" width="14" height="14" rx="2.5"/><rect class="tg" x="756.8" y="355.7" width="14" height="14" rx="2.5"/>
<rect class="tb" x="712" y="376.2" width="14" height="14" rx="2.5"/><rect class="tb" x="728.9" y="376.2" width="14" height="14" rx="2.5"/><rect class="tb" x="756.8" y="376.2" width="14" height="14" rx="2.5"/>
<rect class="tr" x="712" y="403.2" width="14" height="14" rx="2.5"/><rect class="tr" x="728.9" y="403.2" width="14" height="14" rx="2.5"/><rect class="tr" x="756.8" y="403.2" width="14" height="14" rx="2.5"/>
<rect class="ty" x="841.2" y="262.5" width="14.2" height="14" rx="2.5"/><rect class="ty" x="858.1" y="262.5" width="14.2" height="14" rx="2.5"/><rect class="ty" x="886.3" y="262.5" width="14.2" height="14" rx="2.5"/>
<rect class="tg" x="841.2" y="279" width="14.2" height="14" rx="2.5"/><rect class="tg" x="858.1" y="279" width="14.2" height="14" rx="2.5"/><rect class="tg" x="886.3" y="279" width="14.2" height="14" rx="2.5"/>
<rect class="tb" x="841.2" y="295.6" width="14.2" height="14" rx="2.5"/><rect class="tb" x="858.1" y="295.6" width="14.2" height="14" rx="2.5"/><rect class="tb" x="886.3" y="295.6" width="14.2" height="14" rx="2.5"/>
<rect class="ty" x="841.2" y="332.3" width="14.2" height="14" rx="2.5"/><rect class="ty" x="858.1" y="332.3" width="14.2" height="14" rx="2.5"/><rect class="ty" x="886.3" y="332.3" width="14.2" height="14" rx="2.5"/>
<rect class="tg" x="841.2" y="348.6" width="14.2" height="14" rx="2.5"/><rect class="tg" x="858.1" y="348.6" width="14.2" height="14" rx="2.5"/><rect class="tg" x="886.3" y="348.6" width="14.2" height="14" rx="2.5"/>
<rect class="tb" x="841.2" y="365.2" width="14.2" height="14" rx="2.5"/><rect class="tb" x="858.1" y="365.2" width="14.2" height="14" rx="2.5"/><rect class="tb" x="886.3" y="365.2" width="14.2" height="14" rx="2.5"/>
<rect class="tr" x="841.2" y="403.8" width="14.2" height="14" rx="2.5"/><rect class="tr" x="858.1" y="403.8" width="14.2" height="14" rx="2.5"/><rect class="tr" x="886.3" y="403.8" width="14.2" height="14" rx="2.5"/>
<rect class="tr" x="712" y="502.9" width="14" height="14" rx="2.5"/><rect class="tr" x="728.9" y="502.9" width="14" height="14" rx="2.5"/><rect class="tr" x="756.8" y="502.9" width="14" height="14" rx="2.5"/>
<rect class="tr" x="842.2" y="461.2" width="14.2" height="14" rx="2.5"/><rect class="tr" x="858.8" y="461.2" width="14.2" height="14" rx="2.5"/><rect class="tr" x="887" y="461.2" width="14.2" height="14" rx="2.5"/>
<rect class="tr" x="842.2" y="502.3" width="14.2" height="14" rx="2.5"/><rect class="tr" x="858.8" y="502.3" width="14.2" height="14" rx="2.5"/><rect class="tr" x="887" y="502.3" width="14.2" height="14" rx="2.5"/>
<rect class="tr" x="842.2" y="543.3" width="14.2" height="14" rx="2.5"/><rect class="tr" x="858.8" y="543.3" width="14.2" height="14" rx="2.5"/><rect class="tr" x="887" y="543.3" width="14.2" height="14" rx="2.5"/>
</g>
<g class="s" font-size="8" fill="#111" text-anchor="middle">
<text x="749.8" y="341">···</text><text x="749.8" y="361.5">···</text><text x="749.8" y="382">···</text><text x="749.8" y="409">···</text><text x="749.8" y="508.7">···</text>
<text x="879.2" y="268.3">···</text><text x="879.2" y="284.8">···</text><text x="879.2" y="301.4">···</text>
<text x="879.2" y="338.1">···</text><text x="879.2" y="354.4">···</text><text x="879.2" y="371">···</text><text x="879.2" y="409.6">···</text>
<text x="880" y="467">···</text><text x="880" y="508.1">···</text><text x="880" y="549.1">···</text>
</g>
<g fill="#c5d5ee" stroke="#222" stroke-width=".9">
<rect x="798" y="272.8" width="27" height="26.9"/>
<rect x="798.3" y="355.4" width="27.3" height="27.3"/>
<rect x="798.3" y="396.4" width="27.3" height="27.3"/>
<rect x="799.7" y="454.5" width="26.9" height="27.2"/>
<rect x="799.7" y="495.5" width="26.9" height="27.3"/>
<rect x="799.7" y="536.6" width="26.9" height="27.2"/>
</g>
<g class="r i" font-size="15" fill="#111">
<text x="802" y="293">W<tspan font-size="9.5" dy="-7">V</tspan></text>
<text x="802.3" y="376">W<tspan font-size="9.5" dy="-7">K</tspan></text>
<text x="802.3" y="417">W<tspan font-size="9.5" dy="-7">Q</tspan></text>
<text x="803.7" y="475">W<tspan font-size="9.5" dy="-7">V</tspan></text>
<text x="803.7" y="516">W<tspan font-size="9.5" dy="-7">K</tspan></text>
<text x="803.7" y="557">W<tspan font-size="9.5" dy="-7">Q</tspan></text>
</g>
<g class="r i" font-size="11.5" fill="#111" text-anchor="middle">
<text x="872" y="324">V</text><text x="872" y="394.5">K</text><text x="872" y="431">Q</text>
<text x="872" y="489.5">V</text><text x="872" y="531">K</text><text x="872" y="572.5">Q</text>
</g>
<g stroke="#111" stroke-width=".8" fill="none">
<path d="M778,335 H782.4 V389 H778 M782.4,362 H789.7 M789.7,286 V369"/>
<path d="M789.7,286 H797.5" marker-end="url(#ah)"/>
<path d="M789.7,369 H797.5" marker-end="url(#ah)"/>
<path d="M773,410 H798"/>
<path d="M825,286.2 H840.5" marker-end="url(#ah)"/>
<path d="M825.6,369 H840.5" marker-end="url(#ah)"/>
<path d="M825.6,410 H840.5" marker-end="url(#ah)"/>
<path d="M906,321.1 H910.9 V417 H906 M910.9,369 H914"/>
<path d="M965.7,420.8 V439.2 H612.4 V457.5" marker-end="url(#ah)"/>
<path d="M659.6,508.7 H709" marker-end="url(#ah)"/>
<path d="M773,509 H799.5 M791.4,468 V550 M791.4,468 H799.5 M791.4,550 H799.5"/>
<path d="M826.6,468.1 H841.5" marker-end="url(#ah)"/>
<path d="M826.6,509.2 H841.5" marker-end="url(#ah)"/>
<path d="M826.6,550.2 H841.5" marker-end="url(#ah)"/>
<path d="M906,461 H910.9 V557 H906 M910.9,508.7 H914"/>
</g>
<use href="#fml"/>
<use href="#fml" transform="translate(0,139.7)"/>
<!-- N frames -->
<g fill="url(#fm)" stroke="#3535c8" stroke-width="1.1">
<polygon points="548.3,481 579.9,462.4 579.9,536 548.3,554.7"/>
<polygon points="561,481 592.5,462.4 592.5,536 561,554.7"/>
<polygon points="607.4,481 639,462.4 639,536 607.4,554.7"/>
<polygon points="620,481 653.6,462.4 653.6,536 620,554.7"/>
</g>
<g fill="#e07a6a"><rect x="631.3" y="507" width="2.4" height="6.5"/><rect x="634.6" y="506.6" width="2.4" height="6.5"/><rect x="637.9" y="506.2" width="2.4" height="6.5"/><rect x="641.2" y="505.8" width="2.4" height="6.5"/></g>
<g fill="#f2e26a"><circle cx="650" cy="473" r="1.5"/></g>
<text class="s" x="599.8" y="514" font-size="9" fill="#111" text-anchor="middle">...</text>
<text class="r" x="574.9" y="569.4" font-size="10" fill="#111" textLength="42.1" lengthAdjust="spacingAndGlyphs">N frames</text>

<!-- Additional results -->
<rect x="559" y="638.9" width="47.4" height="48.1" fill="url(#sea)"/>
<rect x="559" y="691.2" width="47.4" height="47.8" fill="url(#forest)"/>
<rect x="559" y="743.5" width="47.4" height="47.8" fill="url(#bgb)"/>
<rect x="559" y="795.7" width="47.4" height="48.1" fill="url(#bgp)"/>
<ellipse cx="583" cy="681" rx="14" ry="3" fill="#b8c8d8" opacity=".6"/>
<use href="#dolphin" transform="translate(581,662) rotate(-30) scale(.8)"/>
<use href="#eleph" transform="translate(586,716) scale(.7)"/>
<use href="#burger" transform="translate(582,770) scale(.9)"/>
<use href="#plant" transform="translate(582,818) scale(.8)"/>
<g stroke="#666" stroke-width=".6" stroke-dasharray="4 2 1 2">
<path d="M610.8,636.4 V841"/><path d="M909.6,636.4 V841"/>
</g>
<use href="#dolphin" transform="translate(639.6,664) rotate(-20)"/>
<use href="#dolphin" transform="translate(693.8,664) scale(-1,1) rotate(-15)"/>
<use href="#dolphin" transform="translate(736,664) rotate(65) scale(.9)"/>
<use href="#dolphin" transform="translate(778,664) rotate(-115) scale(.9)"/>
<use href="#dolphin" transform="translate(827.2,664) rotate(-15)"/>
<use href="#dolphin" transform="translate(879.7,664) scale(-1,1) rotate(-25)"/>
<use href="#dolphinM" transform="translate(943.4,664) rotate(-15)"/>
<use href="#dolphin" transform="translate(1002.2,664) scale(-1,1) rotate(-15)"/>
<use href="#eleph" transform="translate(641,716.7)"/>
<use href="#eleph" transform="translate(693.8,716.7) scale(-.8,1)"/>
<use href="#eleph" transform="translate(736,716.7) scale(.55,1.1)"/>
<use href="#eleph" transform="translate(778,716.7) scale(.8,1)"/>
<use href="#eleph" transform="translate(827.2,716.7)"/>
<use href="#eleph" transform="translate(879.7,716.7) scale(-.9,1)"/>
<use href="#elephM" transform="translate(943.4,716.7)"/>
<use href="#eleph" transform="translate(1002.2,716.7)"/>
<use href="#burger" transform="translate(639.6,771.2)"/>
<use href="#burger" transform="translate(689,771.2) scale(.95)"/>
<use href="#burger" transform="translate(736,771.2) scale(.9,1.05)"/>
<use href="#burger" transform="translate(781,771.2)"/>
<use href="#burger" transform="translate(829,771.2)"/>
<use href="#burger" transform="translate(879.7,771.2) scale(1,1.15)"/>
<use href="#burgerM" transform="translate(943.4,771.2) scale(1,1.1)"/>
<use href="#burger" transform="translate(1002.2,771.2) scale(1,1.1)"/>
<use href="#plant" transform="translate(639.6,821)"/>
<use href="#plant" transform="translate(687.5,821)"/>
<use href="#plant" transform="translate(736,821)"/>
<use href="#plant" transform="translate(778,821)"/>
<use href="#plant" transform="translate(827.2,821)"/>
<use href="#plant" transform="translate(879.7,821)"/>
<use href="#plantM" transform="translate(943.4,821)"/>
<use href="#plant" transform="translate(1002.2,821)"/>
<text class="r" font-size="9.5" fill="#111" text-anchor="middle" transform="translate(550.5,689) rotate(-90)" textLength="44" lengthAdjust="spacingAndGlyphs">Elevation 30°</text>
<text class="r" font-size="9.5" fill="#111" text-anchor="middle" transform="translate(550.5,792) rotate(-90)" textLength="63" lengthAdjust="spacingAndGlyphs">Uniform elevations</text>
<g class="r" font-size="9" fill="#111">
<text x="563.3" y="853.4" textLength="39.8" lengthAdjust="spacingAndGlyphs">Input Image</text>
<text x="674.5" y="853.4" textLength="171.7" lengthAdjust="spacingAndGlyphs">Generated multiview-consistent and realistic images</text>
<text x="933.5" y="853.4" textLength="72.4" lengthAdjust="spacingAndGlyphs">Reconstructed meshes</text>
</g>

<!-- ========== RIGHT COLUMN ========== -->
<g stroke="#777" stroke-width=".6" stroke-dasharray="3 2">
<path d="M1121.1,198 V325 M1264.9,198 V325 M1408.3,198 V325"/>
<path d="M1123.8,363 V491 M1272.2,363 V491 M1420.3,363 V491"/>
<path d="M1143.7,529.8 V598.9 M1338.9,529.8 V598.9"/>
</g>
<use href="#lion" transform="translate(1094,222)"/>
<use href="#lion" transform="translate(1149,222)"/>
<use href="#lion" transform="translate(1193.5,228) rotate(80) scale(.95)"/>
<use href="#lion" transform="translate(1238.3,221) scale(-1,1)"/>
<use href="#lion" transform="translate(1292,223)"/>
<use href="#lion" transform="translate(1336.3,228) rotate(80) scale(.95)"/>
<use href="#lion" transform="translate(1382.7,222) scale(-1,1)"/>
<use href="#lion" transform="translate(1436,222)"/>
<use href="#lion" transform="translate(1479,227) rotate(80) scale(.95)"/>
<use href="#lion" transform="translate(1525.5,221) scale(-1,1)"/>
<use href="#turtle" transform="translate(1092.2,266.6)"/>
<use href="#turtle" transform="translate(1147,266.6)"/>
<use href="#turtle" transform="translate(1193.5,266.6) scale(-1,1)"/>
<use href="#turtle" transform="translate(1238.3,266.6)"/>
<use href="#turtle" transform="translate(1289.8,266.6)"/>
<use href="#turtle" transform="translate(1336.3,266.6) scale(.9)"/>
<use href="#turtle" transform="translate(1382.7,266.6) scale(-1,1)"/>
<use href="#turtle" transform="translate(1434.2,266.6)"/>
<use href="#turtle" transform="translate(1479,266.6) scale(-1,1)"/>
<use href="#turtle" transform="translate(1525.5,266.6)"/>
<use href="#gloves" transform="translate(1092.2,309.7)"/>
<use href="#gloves" transform="translate(1147,309.7)"/>
<use href="#gloves" transform="translate(1193.5,309.7) rotate(70)"/>
<use href="#gloves" transform="translate(1238.3,309.7) rotate(-35)"/>
<use href="#gloves" transform="translate(1289.8,309.7)"/>
<use href="#gloves" transform="translate(1336.3,309.7) rotate(70)"/>
<use href="#gloves" transform="translate(1382.7,309.7) rotate(-35)"/>
<use href="#gloves" transform="translate(1434.2,309.7)"/>
<use href="#gloves" transform="translate(1479,309.7) rotate(70)"/>
<use href="#gloves" transform="translate(1525.5,309.7) rotate(-35)"/>
<g class="r" font-size="9" fill="#111">
<text x="1078" y="335.1" textLength="38" lengthAdjust="spacingAndGlyphs">Input View</text>
<text x="1176.2" y="335.1" textLength="28.6" lengthAdjust="spacingAndGlyphs">Zero123</text>
<text x="1317" y="335.1" textLength="46.8" lengthAdjust="spacingAndGlyphs">SyncDreamer</text>
<text x="1475" y="335.1" textLength="16.6" lengthAdjust="spacingAndGlyphs">Ours</text>
<text x="1072.3" y="502" textLength="38.2" lengthAdjust="spacingAndGlyphs">Input View</text>
<text x="1181.9" y="502" textLength="29.5" lengthAdjust="spacingAndGlyphs">Zero123</text>
<text x="1321.7" y="502" textLength="48.4" lengthAdjust="spacingAndGlyphs">SyncDreamer</text>
<text x="1479" y="502" textLength="17.3" lengthAdjust="spacingAndGlyphs">Ours</text>
<text x="1092.2" y="610" textLength="38.9" lengthAdjust="spacingAndGlyphs">Input View</text>
<text x="1197.5" y="610" textLength="75.7" lengthAdjust="spacingAndGlyphs">Generated Instance A</text>
<text x="1393.7" y="610" textLength="75.3" lengthAdjust="spacingAndGlyphs">Generated Instance B</text>
</g>
<g fill="none" stroke="#d42020" stroke-width=".8" stroke-dasharray="2 1.2">
<rect x="1181.9" y="199.8" width="19.9" height="15.2"/>
<rect x="1273.2" y="210.7" width="20.6" height="20.3"/>
<rect x="1326.3" y="202.3" width="18.6" height="16.7"/>
<rect x="1376.8" y="203.1" width="19.2" height="17.8"/>
<rect x="1319" y="257.2" width="19" height="11.9"/>
<rect x="1344.6" y="265.3" width="13.2" height="11.4"/>
<rect x="1291.4" y="305.4" width="18.3" height="16.5"/>
<rect x="1321.3" y="305.4" width="18.3" height="16.5"/>
</g>
<g class="s" font-size="12.8" fill="#444">
<text x="1065" y="356.2" textLength="487" lengthAdjust="spacingAndGlyphs">Qualitative comparison with Zero123 and SyncDreamer under <tspan class="b">the elevation 30</tspan><tspan font-size="8" dy="-5">°</tspan><tspan dy="5"> setting.</tspan></text>
<text x="1086.6" y="520" textLength="449.5" lengthAdjust="spacingAndGlyphs">Qualitative comparison under the <tspan class="b">uniform elevation setting (−10◦, 10◦ and 30◦).</tspan></text>
<text x="1082.3" y="631.2" textLength="442.2" lengthAdjust="spacingAndGlyphs"><tspan class="b">Different plausible instances</tspan> generated by EpiDiff from the same input image.</text>
</g>
<use href="#shoe" transform="translate(1092.2,383.4)"/>
<use href="#shoe" transform="translate(1153.6,383.4) rotate(60) scale(.9)"/>
<use href="#shoe" transform="translate(1198.5,383.4)"/>
<use href="#shoe" transform="translate(1243.3,383.4) scale(-1,1)"/>
<use href="#shoe" transform="translate(1299.7,383.4) rotate(70) scale(.9)"/>
<use href="#shoe" transform="translate(1344.6,383.4) rotate(-60) scale(.9)"/>
<use href="#shoe" transform="translate(1387.7,383.4) scale(-1,1)"/>
<use href="#shoe" transform="translate(1444.2,383.4)"/>
<use href="#shoe" transform="translate(1482.4,383.4) scale(.8)"/>
<use href="#shoe" transform="translate(1523.9,383.4) scale(-1,1)"/>
<use href="#laptop" transform="translate(1092.2,425.3)"/>
<use href="#laptop" transform="translate(1153.6,425.3) scale(-1,1)"/>
<use href="#laptop" transform="translate(1198.5,425.3)"/>
<use href="#laptop" transform="translate(1243.3,425.3)"/>
<use href="#laptop" transform="translate(1299.7,425.3) scale(-1,1)"/>
<use href="#laptop" transform="translate(1344.6,425.3)"/>
<use href="#laptop" transform="translate(1387.7,425.3)"/>
<use href="#laptop" transform="translate(1444.2,425.3) scale(-1,.6)"/>
<use href="#laptop" transform="translate(1482.4,425.3)"/>
<use href="#laptop" transform="translate(1523.9,425.3)"/>
<use href="#rack" transform="translate(1092.2,468.4)"/>
<use href="#rack" transform="translate(1153.6,468.4) scale(1.1,.9)"/>
<use href="#rack" transform="translate(1198.5,468.4)"/>
<use href="#rack" transform="translate(1243.3,468.4)"/>
<use href="#rack" transform="translate(1299.7,468.4) scale(-1,1)"/>
<use href="#rack" transform="translate(1344.6,468.4)"/>
<use href="#rack" transform="translate(1387.7,468.4) scale(-1,1)"/>
<use href="#rack" transform="translate(1444.2,468.4) scale(-1,1)"/>
<use href="#rack" transform="translate(1482.4,468.4)"/>
<use href="#rack" transform="translate(1523.9,468.4)"/>
<use href="#dragon" transform="translate(1112.1,546) scale(-1,1)"/>
<use href="#dragon" transform="translate(1165.3,546) rotate(-40)"/>
<use href="#dragon" transform="translate(1211.8,546)"/>
<use href="#dragon" transform="translate(1261.6,546)"/>
<use href="#dragon" transform="translate(1311.4,546) scale(-1,1)"/>
<use href="#dragon" transform="translate(1362.8,546) rotate(-45)"/>
<use href="#dragon" transform="translate(1406,546) rotate(-30)"/>
<use href="#dragon" transform="translate(1452.5,546)"/>
<use href="#dragon" transform="translate(1500.6,546) scale(-1,1)"/>
<use href="#orca" transform="translate(1112.1,584) scale(-1,1)"/>
<use href="#orca" transform="translate(1165.3,584) rotate(-50)"/>
<use href="#orca" transform="translate(1211.8,584) rotate(-30)"/>
<use href="#orca" transform="translate(1261.6,584) scale(-1,1)"/>
<use href="#orca" transform="translate(1311.4,584) scale(-1,1)"/>
<use href="#orca" transform="translate(1362.8,584) rotate(-45)"/>
<use href="#orca" transform="translate(1406,584) scale(-1,1)"/>
<use href="#orca" transform="translate(1452.5,584) scale(-1,1)"/>
<use href="#orca" transform="translate(1500.6,584)"/>

<!-- Key takeaways -->
<g fill="#111">
<circle cx="1064.3" cy="716.6" r="3.8"/><circle cx="1064.3" cy="740.8" r="3.8"/><circle cx="1064.3" cy="765" r="3.8"/><circle cx="1064.3" cy="789.1" r="3.8"/>
</g>
<g class="s" font-size="16.3" fill="#111">
<text x="1078.3" y="722.1" textLength="412.4" lengthAdjust="spacingAndGlyphs">EpiDiff, a localized interactive multiview diffusion model.</text>
<text x="1078.3" y="746.3" textLength="336" lengthAdjust="spacingAndGlyphs">Adopt an epipolar attention block in the U-Net</text>
<text x="1078.3" y="770.5" textLength="467.1" lengthAdjust="spacingAndGlyphs">Generate <tspan class="b">consistent</tspan> and freely <tspan class="b">distributed</tspan> multi-view images.</text>
<text x="1078.3" y="794.6" textLength="464.5" lengthAdjust="spacingAndGlyphs">Future work include extension to more robust base models and</text>
<text x="1078.3" y="818.8" textLength="444.6" lengthAdjust="spacingAndGlyphs">an end-to-end pipeline unifying multi-view generation and 3d</text>
<text x="1078.3" y="843" textLength="158.4" lengthAdjust="spacingAndGlyphs">shape reconstruction.</text>
</g>
</svg>
</body></html>
